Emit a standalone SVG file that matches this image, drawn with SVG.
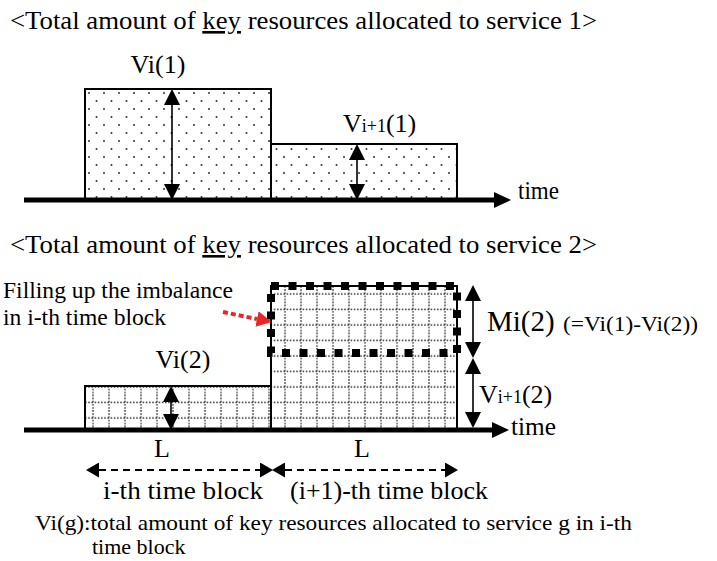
<svg xmlns="http://www.w3.org/2000/svg" width="717" height="561" viewBox="0 0 717 561" font-family="'Liberation Serif', Tinos, 'Times New Roman', Times, serif">
<style>
text{font-family:'Liberation Serif', Tinos, 'Times New Roman', Times, serif;fill:#000}
.t26{font-size:26px}
.t24{font-size:24px}
.t22{font-size:22px}
.sub{font-size:18px}
.bar{stroke:#000;stroke-width:2}
.axis{stroke:#000;stroke-width:5;fill:none}
.varr{stroke:#000;stroke-width:1.6;fill:none;marker-start:url(#ah);marker-end:url(#ah)}
.darr{stroke:#000;stroke-width:2;stroke-dasharray:7 5;fill:none;marker-start:url(#ah2);marker-end:url(#ah2)}
</style>
<defs>
<marker id="ah" viewBox="0 0 16 16" refX="0" refY="8" markerWidth="16" markerHeight="16" markerUnits="userSpaceOnUse" orient="auto-start-reverse"><path d="M0,0 L16,8 L0,16 z" fill="#000"/></marker>
<marker id="ah2" viewBox="0 0 13 15" refX="0" refY="7.5" markerWidth="13" markerHeight="15" markerUnits="userSpaceOnUse" orient="auto-start-reverse"><path d="M0,0 L13,7.5 L0,15 z" fill="#000"/></marker>
<marker id="axh" viewBox="0 0 17 16" refX="0" refY="8" markerWidth="17" markerHeight="16" markerUnits="userSpaceOnUse" orient="auto"><path d="M0,0 L17,8 L0,16 z" fill="#000"/></marker>
<marker id="rh" viewBox="0 0 15 16" refX="0" refY="8" markerWidth="15" markerHeight="16" markerUnits="userSpaceOnUse" orient="auto"><path d="M0,0 L15,8 L0,16 z" fill="#e8262a"/></marker>
<pattern id="dots" width="15" height="16" patternUnits="userSpaceOnUse" x="85" y="89"><circle cx="4" cy="4" r="1" fill="#333"/><circle cx="11.5" cy="12" r="1" fill="#333"/></pattern>
<pattern id="grid" width="16" height="15.5" patternUnits="userSpaceOnUse" x="85" y="286"><path d="M8,0 V15.5 M0,8 H16" stroke="#333" stroke-width="1.4" stroke-dasharray="1.6 1.6" fill="none"/></pattern>
</defs>

<text id="title1" class="t26" x="10" y="29" textLength="587" lengthAdjust="spacingAndGlyphs">&lt;Total amount of <tspan text-decoration="underline">key</tspan> resources allocated to service 1&gt;</text>

<g id="bar-v1-i">
<rect class="bar" x="85" y="89" width="186" height="111" fill="url(#dots)"/>
<text class="t26" x="158" y="73" text-anchor="middle">Vi(1)</text>
</g>
<g id="bar-v1-i1">
<rect class="bar" x="271" y="144" width="186" height="56" fill="url(#dots)"/>
<text class="t26" x="343" y="132">V<tspan class="sub">i+1</tspan>(1)</text>
</g>

<text id="title2" class="t26" x="10" y="253" textLength="587" lengthAdjust="spacingAndGlyphs">&lt;Total amount of <tspan text-decoration="underline">key</tspan> resources allocated to service 2&gt;</text>

<g id="bar-v2-i">
<rect class="bar" x="85" y="386" width="186" height="44" fill="url(#grid)"/>
<text class="t26" x="183" y="368" text-anchor="middle">Vi(2)</text>
</g>
<g id="bar-v2-i1">
<rect class="bar" x="271" y="286" width="186" height="144" fill="url(#grid)"/>
<text class="t26" x="479" y="403">V<tspan class="sub">i+1</tspan>(2)</text>
</g>
<g id="imbalance-box">
<rect x="271" y="286" width="186" height="67" fill="none" stroke="#000" stroke-width="8" stroke-dasharray="8 9.5"/>
<text x="487" y="331" style="font-size:29px">Mi(2)</text>
<text class="t22" x="563" y="331" textLength="135" lengthAdjust="spacingAndGlyphs">(=Vi(1)-Vi(2))</text>
</g>
<g id="note">
<text class="t24" x="3" y="298" textLength="230" lengthAdjust="spacingAndGlyphs">Filling up the imbalance</text>
<text class="t24" x="3" y="325" textLength="163" lengthAdjust="spacingAndGlyphs">in i-th time block</text>
</g>

<g id="connectors">
<line class="axis" x1="24" y1="200" x2="494" y2="200" marker-end="url(#axh)"/>
<line class="axis" x1="24" y1="430" x2="492" y2="430" marker-end="url(#axh)"/>
<line class="varr" x1="172" y1="105" x2="172" y2="184"/>
<line class="varr" x1="357" y1="160" x2="357" y2="184"/>
<line class="varr" x1="171" y1="402" x2="171" y2="414"/>
<line class="varr" x1="473" y1="301" x2="473" y2="342"/>
<line class="varr" x1="473" y1="374" x2="473" y2="412"/>
<line class="darr" x1="99" y1="470" x2="260" y2="470"/>
<line class="darr" x1="285" y1="470" x2="445" y2="470"/>
<line x1="223" y1="312" x2="257" y2="319" stroke="#e8262a" stroke-width="4" stroke-dasharray="5 3" marker-end="url(#rh)"/>
</g>

<text class="t26" x="518" y="199" textLength="41" lengthAdjust="spacingAndGlyphs">time</text>
<text class="t26" x="511" y="435" textLength="45" lengthAdjust="spacingAndGlyphs">time</text>

<text class="t26" x="162" y="457" text-anchor="middle">L</text>
<text class="t26" x="362" y="457" text-anchor="middle">L</text>
<text class="t26" x="103" y="499" textLength="160" lengthAdjust="spacingAndGlyphs">i-th time block</text>
<text class="t26" x="290" y="499" textLength="198" lengthAdjust="spacingAndGlyphs">(i+1)-th time block</text>

<text class="t22" x="35" y="530" textLength="597" lengthAdjust="spacingAndGlyphs">Vi(g):total amount of key resources allocated to service g in i-th</text>
<text class="t22" x="92" y="554">time block</text>
</svg>
